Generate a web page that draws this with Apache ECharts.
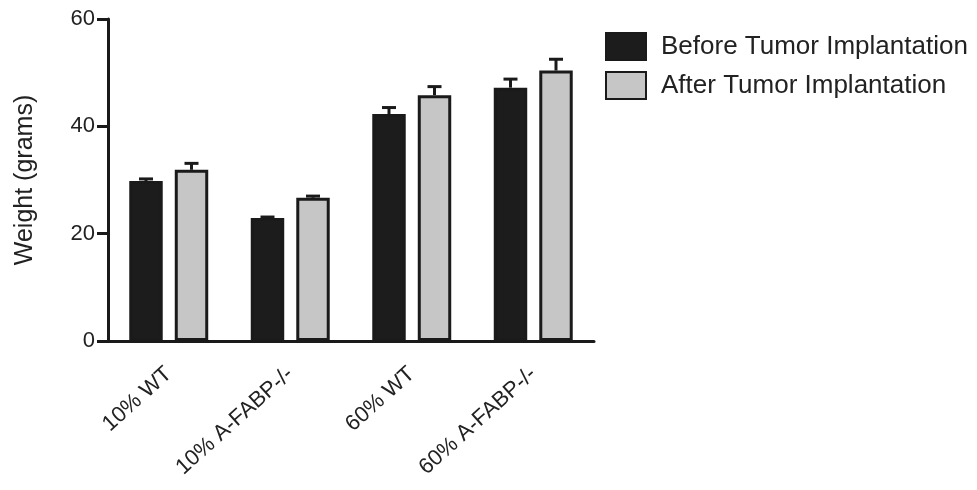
<!DOCTYPE html>
<html>
<head>
<meta charset="utf-8">
<script src="https://cdn.jsdelivr.net/npm/echarts@6/dist/echarts.min.js"></script>
<style>
html,body{margin:0;padding:0;background:#fff;}
#main{width:977px;height:490px;}
</style>
</head>
<body>
<div id="main"></div>
<script>
var categories = ['10% WT', '10% A-FABP-/-', '60% WT', '60% A-FABP-/-'];
var beforeVals = [29.8, 22.9, 42.3, 47.2];
var beforeErr = [0.4, 0.2, 1.2, 1.6];
var afterVals = [31.9, 26.7, 45.8, 50.4];
var afterErr = [1.2, 0.3, 1.6, 2.1];
var yTicks = [0, 20, 40, 60];

var chart = echarts.init(document.getElementById('main'));
var font = '"Liberation Sans", Arial, sans-serif';
var ink = '#1a1a1a';
var txt = '#222';
var catGap = 0.35, barGapRatio = 0.36;

function errData(vals, errs){
    var out = [];
    for(var i in vals)
        out.push([Number(i), vals[i], errs[i]]);
    return out;
}

// draws upper error whisker over the bar (side -1 left bar, +1 right bar)
function errRender(side){
    return function(params, api){
        var idx = api.value(0);
        var top = api.coord([idx, api.value(1)]);
        var cap = api.coord([idx, api.value(1) + api.value(2)]);
        var band = api.size([1, 0])[0];
        var bw = band * (1 - catGap) / (2 + barGapRatio);
        var x = top[0] + side * (bw + bw * barGapRatio) / 2;
        var half = 7;
        var st = {stroke: ink, lineWidth: 3};
        return {
            type: 'group',
            children: [
                {type: 'line', shape: {x1: x, y1: top[1], x2: x, y2: cap[1]}, style: st},
                {type: 'line', shape: {x1: x - half, y1: cap[1], x2: x + half, y2: cap[1]}, style: st}
            ]
        };
    };
}

chart.setOption({
    textStyle: {fontFamily: font},
    animation: false,
    legend: {
        orient: 'vertical',
        left: 600,
        top: 27,
        itemGap: 10,
        itemWidth: 40,
        itemHeight: 27,
        icon: 'rect',
        data: ['Before Tumor Implantation', 'After Tumor Implantation'],
        textStyle: {fontSize: 26, color: txt, fontFamily: font, padding: [0, 0, 0, 10]}
    },
    grid: {
        left: 108,
        right: 383,
        top: 19,
        bottom: 149
    },
    xAxis: {
        type: 'category',
        data: categories,
        axisLine: {lineStyle: {color: ink, width: 3}},
        axisTick: {alignWithLabel: true, length: 9, lineStyle: {color: ink, width: 3}},
        axisLabel: {rotate: 42, margin: 30, fontSize: 22, color: txt, fontFamily: font}
    },
    yAxis: {
        type: 'value',
        min: yTicks[0],
        max: yTicks[yTicks.length - 1],
        interval: 20,
        name: 'Weight (grams)',
        nameLocation: 'middle',
        nameGap: 70,
        nameTextStyle: {fontSize: 25, color: txt, fontFamily: font},
        splitLine: {show: false},
        axisLine: {show: true, lineStyle: {color: ink, width: 3}},
        axisTick: {show: true, inside: false, length: 11, lineStyle: {color: ink, width: 3}},
        axisLabel: {fontSize: 22, color: txt, margin: 13, fontFamily: font}
    },
    series: [
        {
            name: 'Before Tumor Implantation',
            type: 'bar',
            data: beforeVals,
            barCategoryGap: '35%',
            barGap: '36%',
            itemStyle: {color: '#1c1c1c', borderColor: ink, borderWidth: 3}
        },
        {
            name: 'After Tumor Implantation',
            type: 'bar',
            data: afterVals,
            barCategoryGap: '35%',
            barGap: '36%',
            itemStyle: {color: '#c6c6c6', borderColor: ink, borderWidth: 3}
        },
        {
            type: 'custom',
            renderItem: errRender(-1),
            data: errData(beforeVals, beforeErr),
            encode: {x: 0, y: 1},
            z: 3
        },
        {
            type: 'custom',
            renderItem: errRender(1),
            data: errData(afterVals, afterErr),
            encode: {x: 0, y: 1},
            z: 3
        }
    ]
});
</script>
</body>
</html>
